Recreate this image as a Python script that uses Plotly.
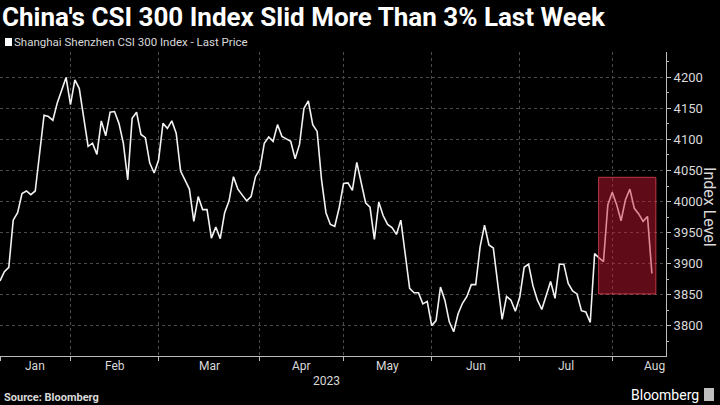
import plotly.graph_objects as go

# CSI 300 daily closes (trading-day index), Jan 3 - Aug 11 2023
values = [
    3872, 3887, 3894, 3970, 3982, 4013, 4017, 4011, 4017, 4081, 4139, 4137, 4131,
    4159, 4180, 4200, 4156, 4196, 4182, 4137, 4089, 4094, 4076, 4130, 4106, 4144,
    4145, 4126, 4094, 4035, 4134, 4144, 4108, 4103, 4062, 4046, 4067, 4126, 4118,
    4130, 4110, 4049, 4035, 4020, 3968, 4008, 3987, 3987, 3941, 3959, 3940,
    3982, 4001, 4040, 4020, 4010, 4001, 4008, 4040, 4052, 4094, 4104, 4097, 4124,
    4105, 4101, 4097, 4069, 4092, 4150, 4162, 4124, 4113, 4035, 3982, 3963,
    3960, 3990, 4029, 4030, 4018, 4063, 4030, 3998, 3991, 3939, 3999, 3977, 3963,
    3958, 3947, 3970, 3915, 3860, 3853, 3853, 3835, 3839, 3800, 3808, 3862,
    3841, 3806, 3790, 3819, 3836, 3847, 3866, 3866, 3927, 3962, 3930, 3925, 3868,
    3810, 3847, 3841, 3823, 3846, 3894, 3899, 3864, 3841, 3826, 3847, 3871,
    3844, 3899, 3899, 3868, 3856, 3851, 3824, 3822, 3805, 3916, 3909, 3903, 3995,
    4015, 3995, 3969, 4003, 4020, 3989, 3980, 3968, 3976, 3884,
]
day_index = list(range(len(values)))

# trading-day index where each month starts, and month labels
month_starts = [0, 16, 36, 59, 78, 98, 118, 139]
month_label_pos = [8, 26, 47.5, 68.5, 88, 108, 128.5, 148.5]
month_labels = ["Jan", "Feb", "Mar", "Apr", "May", "Jun", "Jul", "Aug"]
y_ticks = [3800, 3850, 3900, 3950, 4000, 4050, 4100, 4150, 4200]

# highlighted window (trading-day index range and value range)
box_x = [135.9, 148.9]
box_y = [3851, 4039]

FONT = "Roboto"
TXT = "#d9d9d9"
GRID = "#4a4a4a"

fig = go.Figure()
fig.add_trace(go.Scatter(
    x=day_index, y=values, mode="lines",
    line=dict(color="#f2f2f2", width=1.6),
    showlegend=False, hoverinfo="skip",
))

fig.add_shape(type="rect", xref="x", yref="y",
              x0=box_x[0], x1=box_x[1], y0=box_y[0], y1=box_y[1],
              fillcolor="rgba(205,25,50,0.47)",
              line=dict(color="rgba(235,70,90,0.75)", width=1),
              layer="above")

annotations = []
for pos, lab in zip(month_label_pos, month_labels):
    annotations.append(dict(x=pos, xref="x", y=-0.033, yref="paper", text=lab,
                            showarrow=False, xanchor="center", yanchor="middle",
                            font=dict(family=FONT, size=12, color=TXT)))
annotations += [
    dict(x=326 / 666, xref="paper", y=-0.082, yref="paper", text="2023",
         showarrow=False, xanchor="center", yanchor="middle",
         font=dict(family=FONT, size=12, color=TXT)),
    dict(x=0.0, xref="paper", y=1.115, yref="paper",
         text="<b>China's CSI 300 Index Slid More Than 3% Last Week</b>",
         showarrow=False, xanchor="left", yanchor="middle",
         font=dict(family=FONT, size=26, color="#ffffff")),
    dict(x=0.006, xref="paper", y=1.033, yref="paper",
         text="Shanghai Shenzhen CSI 300 Index - Last Price",
         showarrow=False, xanchor="left", yanchor="middle", xshift=8,
         font=dict(family=FONT, size=11.5, color=TXT)),
    dict(x=0.003, xref="paper", y=-0.135, yref="paper",
         text="<b>Source: Bloomberg</b>",
         showarrow=False, xanchor="left", yanchor="middle",
         font=dict(family=FONT, size=11, color=TXT)),
    dict(x=701 / 666, xref="paper", y=-0.128, yref="paper",
         text="Bloomberg",
         showarrow=False, xanchor="right", yanchor="middle",
         font=dict(family=FONT, size=14, color="#ffffff")),
    dict(x=710 / 666, xref="paper", y=0.49, yref="paper",
         text="Index Level", textangle=90,
         showarrow=False, xanchor="center", yanchor="middle",
         font=dict(family=FONT, size=16, color=TXT)),
]

shapes_extra = [
    # legend swatch
    dict(type="rect", xref="paper", yref="paper",
         x0=5 / 666, x1=12 / 666, y0=(356 - 46) / 304, y1=(356 - 38) / 304,
         fillcolor="#ffffff", line=dict(width=0), layer="above"),
    # bloomberg mark
    dict(type="rect", xref="paper", yref="paper",
         x0=704 / 666, x1=714 / 666, y0=(356 - 401) / 304, y1=(356 - 388) / 304,
         fillcolor="#bfbfbf", line=dict(width=0), layer="above"),
]
for s in shapes_extra:
    fig.add_shape(**s)

fig.update_layout(
    width=720, height=405,
    margin=dict(l=0, r=54, t=52, b=49),
    paper_bgcolor="#000000", plot_bgcolor="#000000",
    annotations=annotations,
    xaxis=dict(
        range=[0, 151.2],
        tickmode="array", tickvals=month_starts,
        ticktext=[""] * len(month_starts),
        showgrid=True, gridcolor=GRID, griddash="dot", gridwidth=1,
        ticks="outside", ticklen=4, tickcolor="#bbbbbb",
        showline=True, linecolor="#bbbbbb", linewidth=1,
        zeroline=False, fixedrange=True,
    ),
    yaxis=dict(
        side="right", range=[3751, 4241],
        tickmode="array", tickvals=y_ticks,
        ticktext=[str(v) for v in y_ticks],
        showgrid=True, gridcolor=GRID, griddash="dot", gridwidth=1,
        ticks="outside", ticklen=4, tickcolor="#bbbbbb",
        minor=dict(dtick=25, tick0=3750, ticks="outside", ticklen=2,
                   tickcolor="#bbbbbb", showgrid=False),
        showline=True, linecolor="#bbbbbb", linewidth=1,
        tickfont=dict(family=FONT, size=13, color=TXT),
        zeroline=False, fixedrange=True,
    ),
)

fig.write_html("out.html")
